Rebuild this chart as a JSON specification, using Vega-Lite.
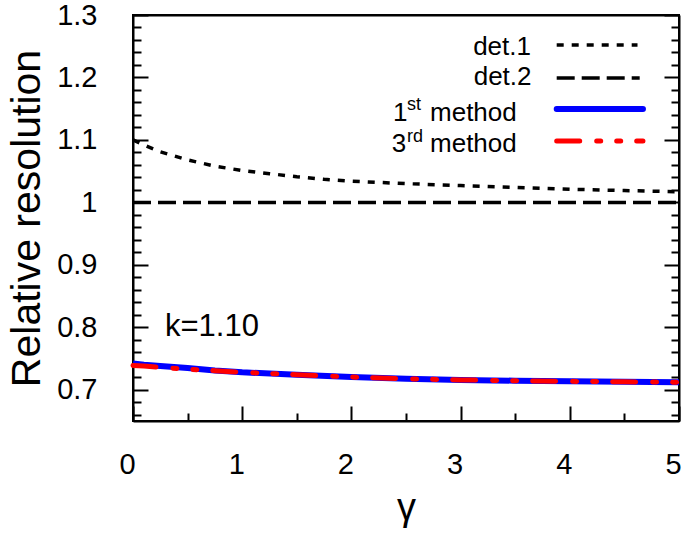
{
  "$schema": "https://vega.github.io/schema/vega-lite/v6.json",
  "width": 546,
  "height": 406,
  "autosize": "none",
  "padding": {"left": 133, "top": 15, "right": 6, "bottom": 118},
  "background": "white",
  "config": {
    "view": {"stroke": "black", "strokeWidth": 2},
    "axis": {
      "grid": false,
      "domainColor": "black",
      "domainWidth": 2,
      "tickColor": "black",
      "tickWidth": 2,
      "labelColor": "black",
      "titleColor": "black",
      "labelFont": "Liberation Sans",
      "titleFont": "Liberation Sans",
      "titleFontWeight": "normal",
      "labelOverlap": false,
      "labelFlush": false
    },
    "text": {"font": "Liberation Sans", "color": "black"}
  },
  "datasets": {
    "curves": [
      {"series": "det1", "g": 0, "v": 1.100},
      {"series": "det1", "g": 0.1, "v": 1.092},
      {"series": "det1", "g": 0.25, "v": 1.081},
      {"series": "det1", "g": 0.5, "v": 1.068},
      {"series": "det1", "g": 0.75, "v": 1.058},
      {"series": "det1", "g": 1, "v": 1.051},
      {"series": "det1", "g": 1.25, "v": 1.046},
      {"series": "det1", "g": 1.5, "v": 1.041},
      {"series": "det1", "g": 1.75, "v": 1.037},
      {"series": "det1", "g": 2, "v": 1.034},
      {"series": "det1", "g": 2.5, "v": 1.030},
      {"series": "det1", "g": 3, "v": 1.027},
      {"series": "det1", "g": 3.5, "v": 1.024},
      {"series": "det1", "g": 4, "v": 1.021},
      {"series": "det1", "g": 4.5, "v": 1.019},
      {"series": "det1", "g": 5, "v": 1.017},
      {"series": "det2", "g": 0, "v": 1.0},
      {"series": "det2", "g": 5, "v": 1.0},
      {"series": "m1", "g": 0, "v": 0.742},
      {"series": "m1", "g": 0.1, "v": 0.740},
      {"series": "m1", "g": 0.25, "v": 0.738},
      {"series": "m1", "g": 0.5, "v": 0.735},
      {"series": "m1", "g": 0.75, "v": 0.731},
      {"series": "m1", "g": 1, "v": 0.728},
      {"series": "m1", "g": 1.5, "v": 0.724},
      {"series": "m1", "g": 2, "v": 0.7205},
      {"series": "m1", "g": 2.5, "v": 0.7175},
      {"series": "m1", "g": 3, "v": 0.7158},
      {"series": "m1", "g": 3.5, "v": 0.7145},
      {"series": "m1", "g": 4, "v": 0.7135},
      {"series": "m1", "g": 4.5, "v": 0.7128},
      {"series": "m1", "g": 5, "v": 0.712},
      {"series": "m3", "g": 0, "v": 0.739},
      {"series": "m3", "g": 0.1, "v": 0.738},
      {"series": "m3", "g": 0.25, "v": 0.736},
      {"series": "m3", "g": 0.5, "v": 0.733},
      {"series": "m3", "g": 0.75, "v": 0.7305},
      {"series": "m3", "g": 1, "v": 0.728},
      {"series": "m3", "g": 1.5, "v": 0.724},
      {"series": "m3", "g": 2, "v": 0.7205},
      {"series": "m3", "g": 2.5, "v": 0.7175},
      {"series": "m3", "g": 3, "v": 0.7158},
      {"series": "m3", "g": 3.5, "v": 0.7145},
      {"series": "m3", "g": 4, "v": 0.7135},
      {"series": "m3", "g": 4.5, "v": 0.7128},
      {"series": "m3", "g": 5, "v": 0.712}
    ],
    "legendLines": [
      {"series": "det1", "x1": 3.88, "x2": 4.62, "y": 1.252},
      {"series": "det2", "x1": 3.88, "x2": 4.64, "y": 1.1992},
      {"series": "m1", "x1": 3.88, "x2": 4.67, "y": 1.1496},
      {"series": "m3", "x1": 3.88, "x2": 4.67, "y": 1.0984}
    ],
    "legendText": [
      {"t": "det.1", "x": 3.115, "y": 1.236},
      {"t": "det.2", "x": 3.12, "y": 1.188},
      {"t": "1", "x": 2.38, "y": 1.1304},
      {"t": "method", "x": 2.72, "y": 1.1304},
      {"t": "3", "x": 2.37, "y": 1.0808},
      {"t": "method", "x": 2.72, "y": 1.0808}
    ],
    "legendSup": [
      {"t": "st", "x": 2.51, "y": 1.148},
      {"t": "rd", "x": 2.51, "y": 1.0968}
    ],
    "note": [
      {"t": "k=1.10", "x": 0.293, "y": 0.7864}
    ]
  },
  "layer": [
    {
      "data": {"name": "curves"},
      "transform": [{"filter": "datum.series === 'det1'"}],
      "mark": {"type": "line", "color": "black", "strokeWidth": 3.5, "strokeDash": [7, 8]},
      "encoding": {
        "x": {
          "field": "g", "type": "quantitative",
          "scale": {"domain": [0, 5], "nice": false, "zero": false},
          "axis": {"orient": "bottom", "values": [0, 1, 2, 3, 4, 5], "tickSize": -15, "labelPadding": 44, "labelFontSize": 29, "labelOffset": -6, "format": "d", "title": "γ", "titleFontSize": 38, "titlePadding": 10}
        },
        "y": {
          "field": "v", "type": "quantitative",
          "scale": {"domain": [0.65, 1.3], "nice": false, "zero": false},
          "axis": {"orient": "left", "values": [0.7, 0.8, 0.9, 1.0, 1.1, 1.2, 1.3], "tickSize": -15, "labelPadding": 51, "labelFontSize": 29, "format": ".1~f", "title": "Relative resolution", "titleFontSize": 41, "titlePadding": 8}
        }
      }
    },
    {
      "data": {"name": "curves"},
      "transform": [{"filter": "datum.series === 'det2'"}],
      "mark": {"type": "line", "color": "black", "strokeWidth": 3.5, "strokeDash": [18, 7]},
      "encoding": {
        "x": {
          "field": "g", "type": "quantitative",
          "scale": {"domain": [0, 5], "nice": false, "zero": false},
          "axis": {"orient": "bottom", "values": [0.5, 1.5, 2.5, 3.5, 4.5], "tickSize": -8, "labels": false, "domain": false, "title": null}
        },
        "y": {
          "field": "v", "type": "quantitative",
          "scale": {"domain": [0.65, 1.3], "nice": false, "zero": false},
          "axis": {"orient": "left", "values": [0.66, 0.68, 0.72, 0.74, 0.76, 0.78, 0.82, 0.84, 0.86, 0.88, 0.92, 0.94, 0.96, 0.98, 1.02, 1.04, 1.06, 1.08, 1.12, 1.14, 1.16, 1.18, 1.22, 1.24, 1.26, 1.28], "tickSize": -8, "labels": false, "domain": false, "title": null}
        }
      }
    },
    {
      "data": {"name": "curves"},
      "transform": [{"filter": "datum.series === 'm1'"}],
      "mark": {"type": "line", "color": "#0000ff", "strokeWidth": 6},
      "encoding": {
        "x": {
          "field": "g", "type": "quantitative",
          "scale": {"domain": [0, 5], "nice": false, "zero": false},
          "axis": {"orient": "top", "ticks": false, "labels": false, "domain": true, "title": null}
        },
        "y": {
          "field": "v", "type": "quantitative",
          "scale": {"domain": [0.65, 1.3], "nice": false, "zero": false},
          "axis": {"orient": "right", "values": [0.7, 0.8, 0.9, 1.0, 1.1, 1.2, 1.3], "tickSize": -15, "labels": false, "domain": true, "title": null}
        }
      }
    },
    {
      "data": {"name": "curves"},
      "transform": [{"filter": "datum.series === 'm3'"}],
      "mark": {"type": "line", "color": "#ff0000", "strokeWidth": 5, "strokeDash": [23, 17, 4, 16, 4, 16], "strokeCap": "round"},
      "encoding": {
        "x": {
          "field": "g", "type": "quantitative",
          "scale": {"domain": [0, 5], "nice": false, "zero": false},
          "axis": null
        },
        "y": {
          "field": "v", "type": "quantitative",
          "scale": {"domain": [0.65, 1.3], "nice": false, "zero": false},
          "axis": {"orient": "right", "values": [0.66, 0.68, 0.72, 0.74, 0.76, 0.78, 0.82, 0.84, 0.86, 0.88, 0.92, 0.94, 0.96, 0.98, 1.02, 1.04, 1.06, 1.08, 1.12, 1.14, 1.16, 1.18, 1.22, 1.24, 1.26, 1.28], "tickSize": -8, "labels": false, "domain": false, "title": null}
        }
      }
    },
    {
      "data": {"name": "legendLines"},
      "transform": [{"filter": "datum.series === 'det1'"}],
      "mark": {"type": "rule", "color": "black", "strokeWidth": 3.5, "strokeDash": [7, 8]},
      "encoding": {
        "x": {"field": "x1", "type": "quantitative", "scale": {"domain": [0, 5], "nice": false, "zero": false}, "axis": null},
        "x2": {"field": "x2"},
        "y": {"field": "y", "type": "quantitative", "scale": {"domain": [0.65, 1.3], "nice": false, "zero": false}, "axis": null}
      }
    },
    {
      "data": {"name": "legendLines"},
      "transform": [{"filter": "datum.series === 'det2'"}],
      "mark": {"type": "rule", "color": "black", "strokeWidth": 3.5, "strokeDash": [18, 7]},
      "encoding": {
        "x": {"field": "x1", "type": "quantitative", "scale": {"domain": [0, 5], "nice": false, "zero": false}, "axis": null},
        "x2": {"field": "x2"},
        "y": {"field": "y", "type": "quantitative", "scale": {"domain": [0.65, 1.3], "nice": false, "zero": false}, "axis": null}
      }
    },
    {
      "data": {"name": "legendLines"},
      "transform": [{"filter": "datum.series === 'm1'"}],
      "mark": {"type": "rule", "color": "#0000ff", "strokeWidth": 6, "strokeCap": "round"},
      "encoding": {
        "x": {"field": "x1", "type": "quantitative", "scale": {"domain": [0, 5], "nice": false, "zero": false}, "axis": null},
        "x2": {"field": "x2"},
        "y": {"field": "y", "type": "quantitative", "scale": {"domain": [0.65, 1.3], "nice": false, "zero": false}, "axis": null}
      }
    },
    {
      "data": {"name": "legendLines"},
      "transform": [{"filter": "datum.series === 'm3'"}],
      "mark": {"type": "rule", "color": "#ff0000", "strokeWidth": 5, "strokeDash": [23, 17, 4, 16, 4, 16], "strokeCap": "round"},
      "encoding": {
        "x": {"field": "x1", "type": "quantitative", "scale": {"domain": [0, 5], "nice": false, "zero": false}, "axis": null},
        "x2": {"field": "x2"},
        "y": {"field": "y", "type": "quantitative", "scale": {"domain": [0.65, 1.3], "nice": false, "zero": false}, "axis": null}
      }
    },
    {
      "data": {"name": "legendText"},
      "mark": {"type": "text", "fontSize": 26, "align": "left", "baseline": "alphabetic"},
      "encoding": {
        "x": {"field": "x", "type": "quantitative", "scale": {"domain": [0, 5], "nice": false, "zero": false}, "axis": null},
        "y": {"field": "y", "type": "quantitative", "scale": {"domain": [0.65, 1.3], "nice": false, "zero": false}, "axis": null},
        "text": {"field": "t"}
      }
    },
    {
      "data": {"name": "legendSup"},
      "mark": {"type": "text", "fontSize": 18, "align": "left", "baseline": "alphabetic"},
      "encoding": {
        "x": {"field": "x", "type": "quantitative", "scale": {"domain": [0, 5], "nice": false, "zero": false}, "axis": null},
        "y": {"field": "y", "type": "quantitative", "scale": {"domain": [0.65, 1.3], "nice": false, "zero": false}, "axis": null},
        "text": {"field": "t"}
      }
    },
    {
      "data": {"name": "note"},
      "mark": {"type": "text", "fontSize": 31, "align": "left", "baseline": "alphabetic"},
      "encoding": {
        "x": {"field": "x", "type": "quantitative", "scale": {"domain": [0, 5], "nice": false, "zero": false}, "axis": null},
        "y": {"field": "y", "type": "quantitative", "scale": {"domain": [0.65, 1.3], "nice": false, "zero": false}, "axis": null},
        "text": {"field": "t"}
      }
    }
  ],
  "resolve": {"axis": {"x": "independent", "y": "independent"}}
}
